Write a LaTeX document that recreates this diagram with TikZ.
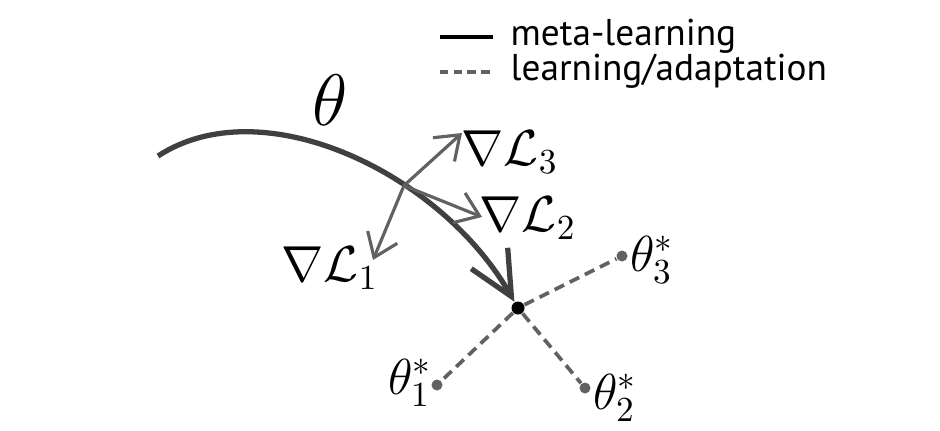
\documentclass[tikz,border=0pt]{standalone}
\usepackage[no-math]{fontspec}
\setmainfont{PT Sans}
\usetikzlibrary{arrows.meta}
\begin{document}
\begin{tikzpicture}[x=0.01cm, y=-0.01cm,
    metaline/.style={line width=1.5pt, draw=black!75},
    gradline/.style={line width=0.9pt, draw=black!62, -{Straight Barb[length=2.2mm, width=3.2mm]}},
    adaptline/.style={line width=1.05pt, draw=black!62, dash pattern=on 3pt off 1.8pt},
    optdot/.style={circle, fill=black!62, inner sep=0pt, minimum size=1.1mm},
    legendtext/.style={anchor=west, inner sep=0pt, font=\fontsize{10.6}{13}\selectfont},
    mathlabel/.style={font=\Large, inner sep=0pt}]
    \useasboundingbox (0, 0) rectangle (940, 430);
    % legend
    \coordinate (leg1a) at (440, 37);
    \coordinate (leg1b) at (493, 37);
    \coordinate (leg2a) at (440, 72);
    \coordinate (leg2b) at (493, 72);
    \draw[line width=1.4pt, black] (leg1a) -- (leg1b);
    \draw[line width=1pt, black!62, dash pattern=on 2.4pt off 1.5pt] (leg2a) -- (leg2b);
    \node[legendtext] (metatxt) at (510, 36) {meta-learning};
    \node[legendtext] (adapttxt) at (510, 71) {learning/adaptation};
    % meta-learning path
    \node[font=\fontsize{22}{26}\selectfont] (theta) at (330, 100) {$\theta$};
    \coordinate (start) at (158, 156);
    \node[circle, fill=black, inner sep=0pt, minimum size=1.3mm] (opt) at (518, 308) {};
    \draw[metaline, -{Straight Barb[length=4.4mm, width=4.2mm]}] (start) .. controls (262, 88) and (440, 172) .. coordinate[pos=0.645] (grad) (opt);
    % gradients
    \coordinate (g1) at (373, 260);
    \coordinate (g2) at (482, 217);
    \coordinate (g3) at (462, 133);
    \draw[gradline] (grad) -- (g1);
    \draw[gradline] (grad) -- (g2);
    \draw[gradline] (grad) -- (g3);
    \node[mathlabel] (L1) at (330, 268) {$\nabla\mathcal{L}_1$};
    \node[mathlabel] (L2) at (528, 218) {$\nabla\mathcal{L}_2$};
    \node[mathlabel] (L3) at (510, 152) {$\nabla\mathcal{L}_3$};
    % task optima
    \node[optdot] (t1) at (437, 385) {};
    \node[optdot] (t2) at (585, 388) {};
    \node[optdot] (t3) at (622, 256) {};
    \draw[adaptline] (opt) -- (t1);
    \draw[adaptline] (opt) -- (t2);
    \draw[adaptline] (opt) -- (t3);
    \node[mathlabel] (T1) at (410, 383) {$\theta^*_1$};
    \node[mathlabel] (T2) at (615, 398) {$\theta^*_2$};
    \node[mathlabel] (T3) at (652, 260) {$\theta^*_3$};
\end{tikzpicture}
\end{document}
